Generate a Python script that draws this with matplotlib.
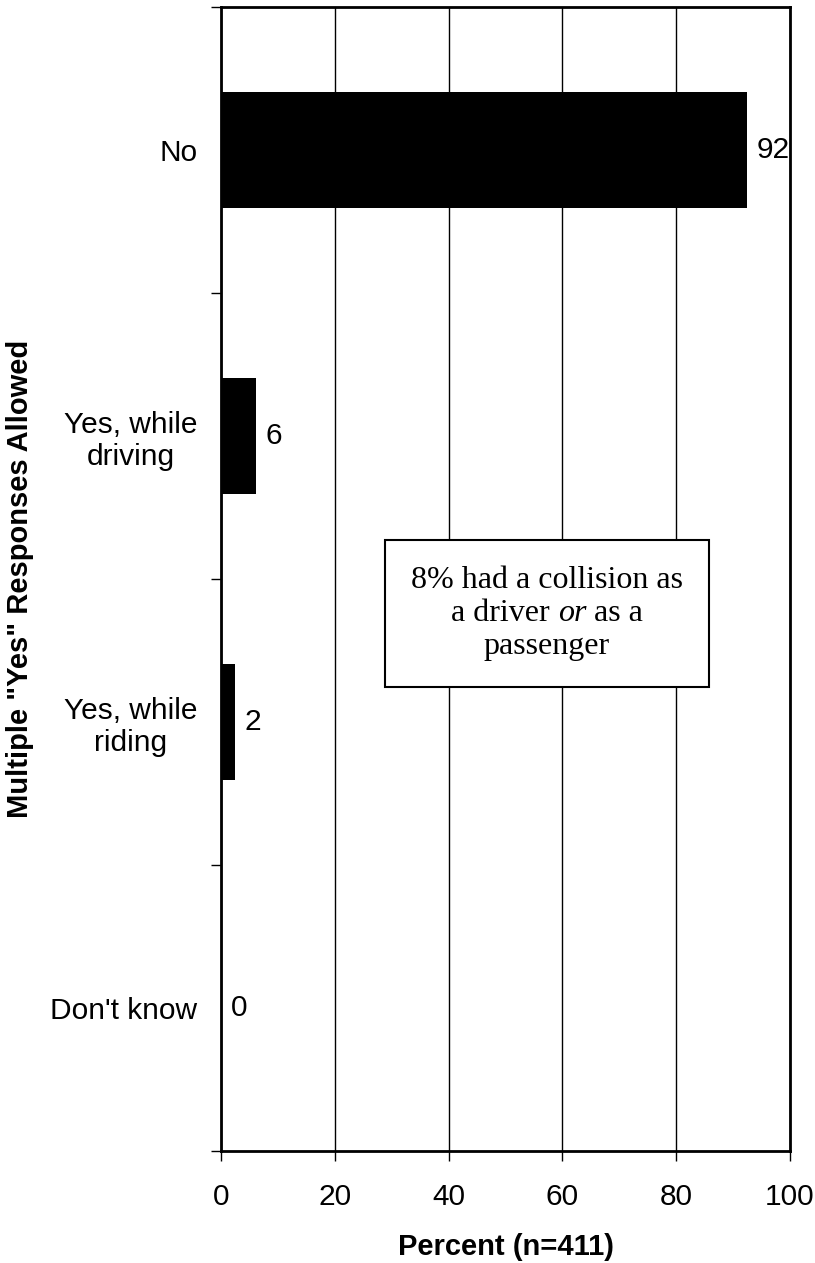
import matplotlib
matplotlib.use('Agg')
import matplotlib.pyplot as plt
from matplotlib.offsetbox import TextArea, HPacker, VPacker, AnnotationBbox

categories = ['No', 'Yes, while\ndriving', 'Yes, while\nriding', "Don't know"]
values = [92.5, 6.1, 2.4, 0]
value_labels = ['92', '6', '2', '0']
x_ticks = [0, 20, 40, 60, 80, 100]

plt.rcParams['font.family'] = ['Liberation Sans', 'DejaVu Sans']

fig = plt.figure(figsize=(8.15, 12.63), dpi=100)
ax = fig.add_axes([221/815, 1 - 1151/1263, 569/815, 1144/1263])

ypos = list(range(len(categories)))
ax.barh(ypos, values, height=0.406, color='black', zorder=3)

for y, v, lab in zip(ypos, values, value_labels):
    ax.annotate(lab, (v, y), xytext=(7, 0), textcoords='offset points',
                ha='left', va='center', fontsize=21.5, zorder=4)

ax.set_xlim(0, 100)
ax.set_ylim(len(categories) - 0.5, -0.5)
ax.set_xticks(x_ticks)
ax.set_xticklabels([str(t) for t in x_ticks], fontsize=21.5)
ax.xaxis.grid(True, color='black', linewidth=1.0, zorder=0)
ax.set_axisbelow(True)

ax.set_yticks([i - 0.5 for i in range(len(categories) + 1)])
ax.set_yticklabels([])
ax.set_yticks(ypos, minor=True)
ax.set_yticklabels(categories, minor=True, fontsize=21.5, ha='right',
                   multialignment='center')
ax.tick_params(axis='y', which='minor', length=0, pad=17)
ax.tick_params(axis='both', which='major', length=7, width=1, color='black',
               direction='out')
ax.tick_params(axis='x', pad=16)

for s in ax.spines.values():
    s.set_linewidth(2)
    s.set_color('black')

ax.set_xlabel('Percent (n=411)', fontsize=21, fontweight='bold', labelpad=16)
ax.set_ylabel('Multiple "Yes" Responses Allowed', fontsize=21,
              fontweight='bold', labelpad=12)

# annotation box with mixed italic text
serif = dict(family=['Liberation Serif', 'DejaVu Serif'], size=23, color='black')
line1 = TextArea('8% had a collision as', textprops=serif)
l2a = TextArea('a driver ', textprops=serif)
l2b = TextArea('or', textprops=dict(serif, style='italic'))
l2c = TextArea(' as a', textprops=serif)
line2 = HPacker(children=[l2a, l2b, l2c], align='baseline', pad=0, sep=0)
line3 = TextArea('passenger', textprops=serif)
box = VPacker(children=[line1, line2, line3], align='center', pad=0, sep=3)
ab = AnnotationBbox(box, (0.573, 0.470), xycoords='axes fraction',
                    frameon=True, pad=1.85, zorder=5,
                    bboxprops=dict(boxstyle='square,pad=1.85', facecolor='white',
                                   edgecolor='black', linewidth=1.5))
ax.add_artist(ab)

fig.savefig('out.png', dpi=100)
